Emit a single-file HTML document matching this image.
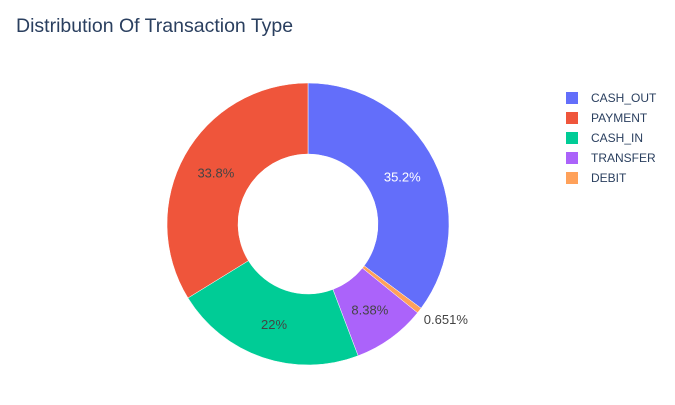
<!DOCTYPE html>
<html><head><meta charset="utf-8"><style>
body{margin:0;background:#fff;font-family:"Liberation Sans",Arial,sans-serif}
</style></head><body>
<svg id="c" width="675" height="400" xmlns="http://www.w3.org/2000/svg">
<text x="16" y="32" font-size="19.5" fill="#2a3f5f">Distribution Of Transaction Type</text>
<g id="slices"></g>
<g id="legend"></g>
</svg>
<script>
const categories=["CASH_OUT","DEBIT","TRANSFER","CASH_IN","PAYMENT"];
const values=[35.2,0.651,8.38,22,33.8];
const sliceColors=["#636efa","#FFA15A","#ab63fa","#00cc96","#EF553B"];
const legendOrder=["CASH_OUT","PAYMENT","CASH_IN","TRANSFER","DEBIT"];
const NS="http://www.w3.org/2000/svg";
const cx=308,cy=224,R=141,r=70;
const total=values.reduce((a,b)=>a+b,0);
const g=document.getElementById('slices');
function pt(a,rad){return [cx+rad*Math.sin(a),cy-rad*Math.cos(a)];}
let acc=0;
values.forEach((v,i)=>{
  const a0=acc/total*2*Math.PI;acc+=v;const a1=acc/total*2*Math.PI;
  const large=(a1-a0)>Math.PI?1:0;
  const p0=pt(a0,R),p1=pt(a1,R),q1=pt(a1,r),q0=pt(a0,r);
  const p=document.createElementNS(NS,'path');
  p.setAttribute('d',`M${p0} A${R},${R} 0 ${large} 1 ${p1} L${q1} A${r},${r} 0 ${large} 0 ${q0} Z`);
  p.setAttribute('fill',sliceColors[i]);p.setAttribute('stroke','#fff');p.setAttribute('stroke-width','0.5');
  
  
  g.appendChild(p);
  const am=(a0+a1)/2;const pct=v/total*100;
  const txt=pct>=10?pct.toFixed(1).replace(/\.0$/,''):pct>=1?pct.toFixed(2):pct.toFixed(3);
  const t=document.createElementNS(NS,'text');
  let pos;
  if(pct<2){pos=pt(am,R+12);t.setAttribute('text-anchor','start');pos=[pos[0]-5,pos[1]+6];}
  else{pos=pt(am,(R+r)/2);t.setAttribute('text-anchor','middle');pos=[pos[0],pos[1]+5];}
  t.setAttribute('x',pos[0]);t.setAttribute('y',pos[1]);
  t.setAttribute('font-size','13');
  t.setAttribute('fill',i===0?'#fff':'#444');
  t.textContent=txt+'%';
  
  
  g.appendChild(t);
});
const lg=document.getElementById('legend');
legendOrder.forEach((c,j)=>{
  const col=sliceColors[categories.indexOf(c)];
  const y=98+j*20;
  const rc=document.createElementNS(NS,'rect');
  rc.setAttribute('x',566);rc.setAttribute('y',y-6);rc.setAttribute('width',12);rc.setAttribute('height',12);rc.setAttribute('fill',col);
  
  
  lg.appendChild(rc);
  const t=document.createElementNS(NS,'text');
  t.setAttribute('x',591);t.setAttribute('y',y+4);t.setAttribute('font-size','12');t.setAttribute('fill','#2a3f5f');
  t.textContent=c;
  
  
  lg.appendChild(t);
});
</script>
</body></html>
